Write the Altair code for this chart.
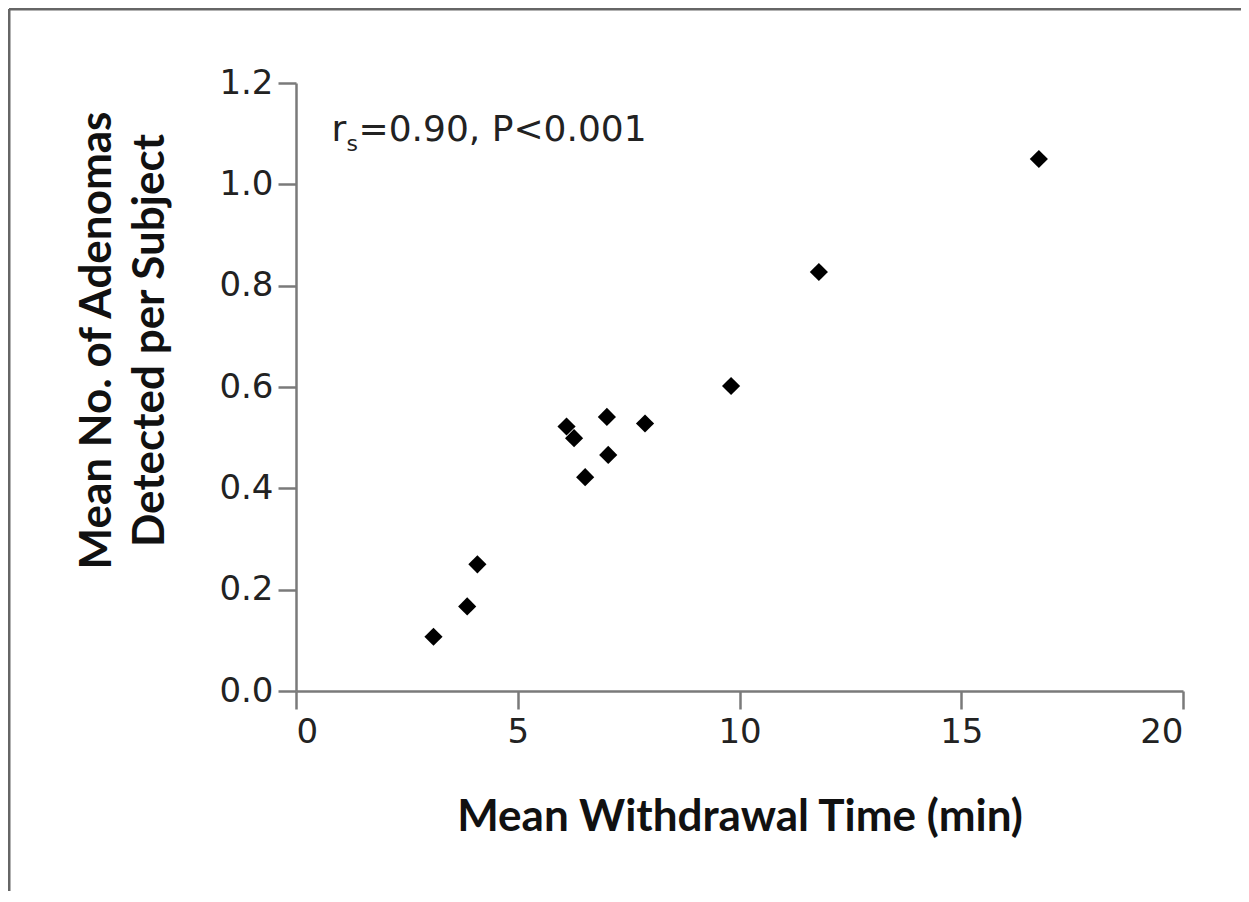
import altair as alt
import pandas as pd

# Data
withdrawal_time = [3.10, 3.86, 4.09, 6.10, 6.27, 6.52, 7.01, 7.04, 7.87, 9.81, 11.79, 16.75]
adenomas = [0.107, 0.167, 0.250, 0.522, 0.499, 0.422, 0.541, 0.466, 0.528, 0.602, 0.827, 1.050]
x_ticks = [0, 5, 10, 15, 20]
y_ticks = [0.0, 0.2, 0.4, 0.6, 0.8, 1.0, 1.2]
annot_x = [0.80]
annot_y = [1.085]

df = pd.DataFrame({"t": withdrawal_time, "a": adenomas})
adf = pd.DataFrame({"x": annot_x, "y": annot_y})

AX = "#7a7a7a"
LBL = "DejaVu Sans"
TTL = "Lato"

xscale = alt.Scale(domain=[0, 20], nice=False, zero=False)
yscale = alt.Scale(domain=[0, 1.2], nice=False, zero=False)

points = alt.Chart(df).mark_point(
    shape="diamond", filled=True, color="#000000", size=330, opacity=1
).encode(
    x=alt.X("t:Q", scale=xscale,
            axis=alt.Axis(values=x_ticks, title="Mean Withdrawal Time (min)", format="d")),
    y=alt.Y("a:Q", scale=yscale,
            axis=alt.Axis(values=y_ticks, format=".1f",
                          title=["Mean No. of Adenomas", "Detected per Subject"],
                          titleX=-199, titleY=257, titleBaseline="middle",
                          titleLineHeight=53, titleAngle=270, titleAlign="center")),
)

r_txt = alt.Chart(adf).mark_text(
    text="r", font=LBL, fontSize=36, align="left", baseline="alphabetic", color="#222222"
).encode(x=alt.X("x:Q", scale=xscale), y=alt.Y("y:Q", scale=yscale))

s_txt = alt.Chart(adf).mark_text(
    text="s", font=LBL, fontSize=22, align="left", baseline="alphabetic", color="#222222",
    dx=15, dy=10
).encode(x=alt.X("x:Q", scale=xscale), y=alt.Y("y:Q", scale=yscale))

rest_txt = alt.Chart(adf).mark_text(
    text="=0.90,  P<0.001", font=LBL, fontSize=36, align="left", baseline="alphabetic",
    color="#222222", dx=27
).encode(x=alt.X("x:Q", scale=xscale), y=alt.Y("y:Q", scale=yscale))

frame_top = alt.Chart(adf).mark_rule(color="#666666", strokeWidth=3).encode(
    x=alt.value(-287), x2=alt.value(1000), y=alt.value(-74)
)
frame_left = alt.Chart(adf).mark_rule(color="#666666", strokeWidth=3).encode(
    x=alt.value(-287), y=alt.value(-74), y2=alt.value(900)
)

chart = alt.layer(frame_top, frame_left, points, r_txt, s_txt, rest_txt).properties(
    width=887, height=608,
    autosize=alt.AutoSizeParams(type="none"),
    padding={"left": 288, "top": 75, "right": 58, "bottom": 200},
    background="white",
).configure_view(stroke=None).configure_axis(
    grid=False,
    domainColor=AX, domainWidth=2.5,
    tickColor=AX, tickWidth=2.5, tickSize=18,
    labelFont=LBL, labelFontSize=34, labelColor="#222222", labelPadding=5,
    titleFont=TTL, titleFontSize=44, titleFontWeight="bold", titleColor="#111111",
).configure_axisX(titlePadding=46, labelPadding=6).configure_axisY(labelPadding=5)

chart.save("out.html", embed_options={"renderer": "svg", "actions": False})
